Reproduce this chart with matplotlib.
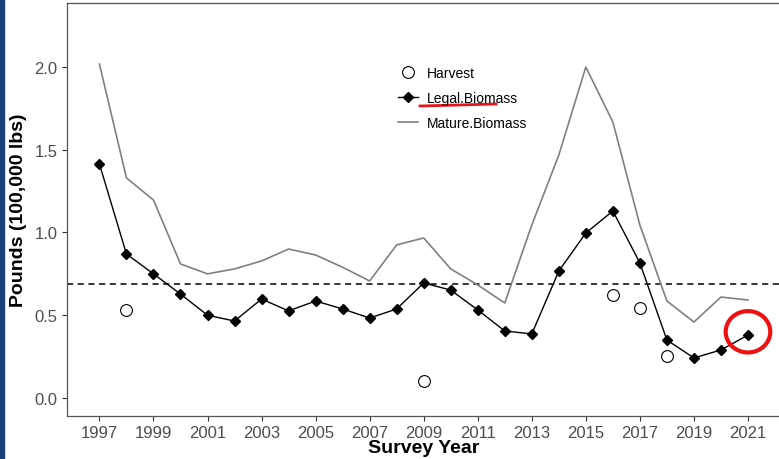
import matplotlib
matplotlib.use("Agg")
import matplotlib.pyplot as plt
from matplotlib.patches import Ellipse, Rectangle
from matplotlib.lines import Line2D

plt.rcParams['font.family'] = ['Liberation Sans', 'DejaVu Sans']

years = list(range(1997, 2022))
legal_biomass = [1.414, 0.870, 0.750, 0.628, 0.500, 0.465, 0.598, 0.526, 0.586, 0.538,
                 0.483, 0.538, 0.695, 0.652, 0.532, 0.405, 0.387, 0.767, 0.997, 1.130,
                 0.816, 0.350, 0.242, 0.290, 0.380]
mature_biomass = [2.018, 1.330, 1.196, 0.810, 0.750, 0.780, 0.828, 0.900, 0.864, 0.790,
                  0.707, 0.925, 0.967, 0.780, 0.683, 0.574, 1.045, 1.468, 2.000, 1.668,
                  1.045, 0.586, 0.459, 0.610, 0.592]
harvest_years = [1998, 2009, 2016, 2017, 2018]
harvest = [0.530, 0.100, 0.622, 0.544, 0.254]
reference_level = 0.689

W, H = 779, 460
fig = plt.figure(figsize=(W / 100, H / 100), dpi=100)
ax = fig.add_axes([67 / W, 1 - 417 / H, (780.4 - 67) / W, (417 - 4) / H])

# left edge strip from the slide
fig.patches.append(Rectangle((0, 0), 3.5 / W, 1, transform=fig.transFigure,
                             color='#1b3f7a', zorder=10))

ax.axhline(reference_level, color='black', ls=(0, (4, 3)), lw=1.1, zorder=1)
ax.plot(years, mature_biomass, color='#808080', lw=1.2, zorder=2)
ax.plot(years, legal_biomass, color='black', lw=1.0, marker='D', ms=5.5, zorder=3)
ax.plot(harvest_years, harvest, ls='none', marker='o', ms=8.5, mfc='white',
        mec='black', mew=0.8, zorder=4)

ax.set_xlim(1995.8, 2022.2)
ax.set_ylim(-0.109, 2.387)
ax.set_xticks(range(1997, 2022, 2))
ax.set_yticks([0.0, 0.5, 1.0, 1.5, 2.0])
ax.set_yticklabels(['0.0', '0.5', '1.0', '1.5', '2.0'])
ax.tick_params(labelsize=12, labelcolor='#4d4d4d', color='#333333', length=3.5, width=0.8)
ax.tick_params(axis='x', pad=3)
for s in ax.spines.values():
    s.set_color('#555555')
    s.set_linewidth(0.9)

ax.set_xlabel('Survey Year', fontsize=14, fontweight='bold', labelpad=-1)
ax.set_ylabel('Pounds (100,000 lbs)', fontsize=14, fontweight='bold', labelpad=5)

handles = [
    Line2D([], [], ls='none', marker='o', ms=8.5, mfc='white', mec='black', mew=0.8),
    Line2D([], [], color='black', lw=1.0, marker='D', ms=5.5),
    Line2D([], [], color='#808080', lw=1.2),
]
fig.legend(handles, ['Harvest', 'Legal.Biomass', 'Mature.Biomass'],
           loc='upper left', bbox_to_anchor=(391 / W, 1 - 60 / H),
           frameon=False, fontsize=10, handlelength=1.45, handletextpad=0.6,
           labelspacing=0.78, borderpad=0)

# red highlights
fig.add_artist(Line2D([420 / W, 496 / W], [1 - 107 / H, 1 - 105 / H],
                      transform=fig.transFigure, color='#e8141b', lw=2))
ax.add_patch(Ellipse((years[-1], legal_biomass[-1] + 0.02), 1.65, 0.25,
                     fill=False, ec='#ee1111', lw=3, clip_on=False, zorder=5))

fig.savefig('out.png', dpi=100)
